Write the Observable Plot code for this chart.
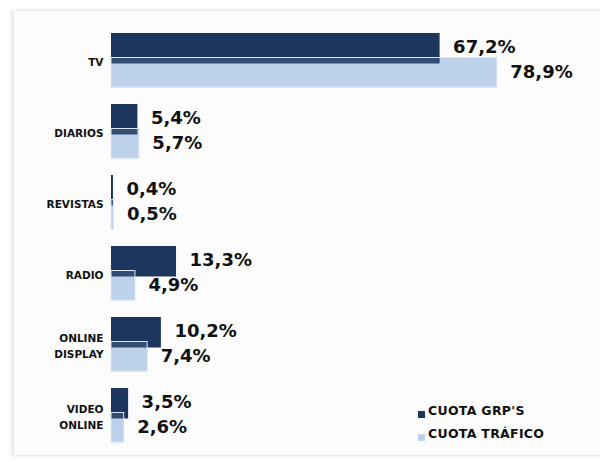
<!DOCTYPE html>
<html>
<head>
<meta charset="utf-8">
<script src="https://cdn.jsdelivr.net/npm/d3@7"></script>
<script src="https://cdn.jsdelivr.net/npm/@observablehq/plot@0.6"></script>
<style>
  html, body { margin: 0; padding: 0; background: #ffffff; }
  #wrap { position: relative; width: 600px; height: 462px; overflow: hidden; font-family: "DejaVu Sans", sans-serif; }
  #panel { position: absolute; left: 13px; top: 10px; width: 620px; height: 444px; background: #fcfcfc;
           border: 1px solid #ececec; box-shadow: -2px 0 3px rgba(0,0,0,0.10); }
  #chart { position: absolute; left: 0; top: 0; }
  .leg { position: absolute; left: 418px; font-weight: bold; font-size: 12.5px; color: #111; white-space: nowrap; letter-spacing: 0.3px; }
  .leg span.sw { position: absolute; left: 0; width: 7px; height: 7px; }
  .leg span.tx { position: absolute; left: 10px; top: -8px; }
</style>
</head>
<body>
<div id="wrap">
  <div id="panel"></div>
  <div id="chart"></div>
  <div id="legend"></div>
</div>
<script>
const categories = ["TV", "DIARIOS", "REVISTAS", "RADIO", "ONLINE\nDISPLAY", "VIDEO\nONLINE"];
const cuotaGrps = [67.2, 5.4, 0.4, 13.3, 10.2, 3.5];
const cuotaTrafico = [78.9, 5.7, 0.5, 4.9, 7.4, 2.6];
const seriesNames = ["CUOTA GRP'S", "CUOTA TRÁFICO"];
const seriesColors = ["#1c365e", "#bdd1ea"];

const rows = categories.map((c, i) => ({cat: c, grp: cuotaGrps[i], tra: cuotaTrafico[i]}));
const fmt = v => v.toFixed(1).replace(".", ",") + "%";

const chart = Plot.plot({
  width: 600,
  height: 462,
  marginLeft: 111,
  marginRight: 0,
  marginTop: 23,
  marginBottom: 10,
  style: {background: "transparent", fontFamily: "'DejaVu Sans', sans-serif", overflow: "visible"},
  x: {domain: [0, 100], axis: null},
  y: {domain: categories, padding: 0, axis: null},
  marks: [
    Plot.barX(rows, {x: "tra", y: "cat", fill: seriesColors[1], insetTop: 32, insetBottom: 8.5}),
    Plot.barX(rows, {x: "grp", y: "cat", fill: seriesColors[0], insetTop: 8, insetBottom: 32.5}),
    Plot.barX(rows, {x: "tra", y: "cat", fill: seriesColors[1], fillOpacity: 0.14, stroke: "#dbe5f3", strokeWidth: 1, insetTop: 32.5, insetBottom: 9}),
    Plot.text(rows, {x: 0, y: "cat", text: "cat", dx: -8, textAnchor: "end", fontSize: 10.5, fontWeight: "bold", lineHeight: 1.55, fill: "#111"}),
    Plot.text(rows, {x: "grp", y: "cat", text: d => fmt(d.grp), dx: 13, dy: -13.5, textAnchor: "start", fontSize: 18, fontWeight: "bold", fill: "#111"}),
    Plot.text(rows, {x: "tra", y: "cat", text: d => fmt(d.tra), dx: 13, dy: 11.5, textAnchor: "start", fontSize: 18, fontWeight: "bold", fill: "#111"})
  ]
});
document.getElementById("chart").appendChild(chart);

const legend = document.getElementById("legend");
const legTops = [411, 434];
seriesNames.forEach((name, i) => {
  const d = document.createElement("div");
  d.className = "leg";
  d.style.top = legTops[i] + "px";
  d.innerHTML = `<span class="sw" style="background:${seriesColors[i]}"></span><span class="tx">${name}</span>`;
  legend.appendChild(d);
});
</script>
</body>
</html>
